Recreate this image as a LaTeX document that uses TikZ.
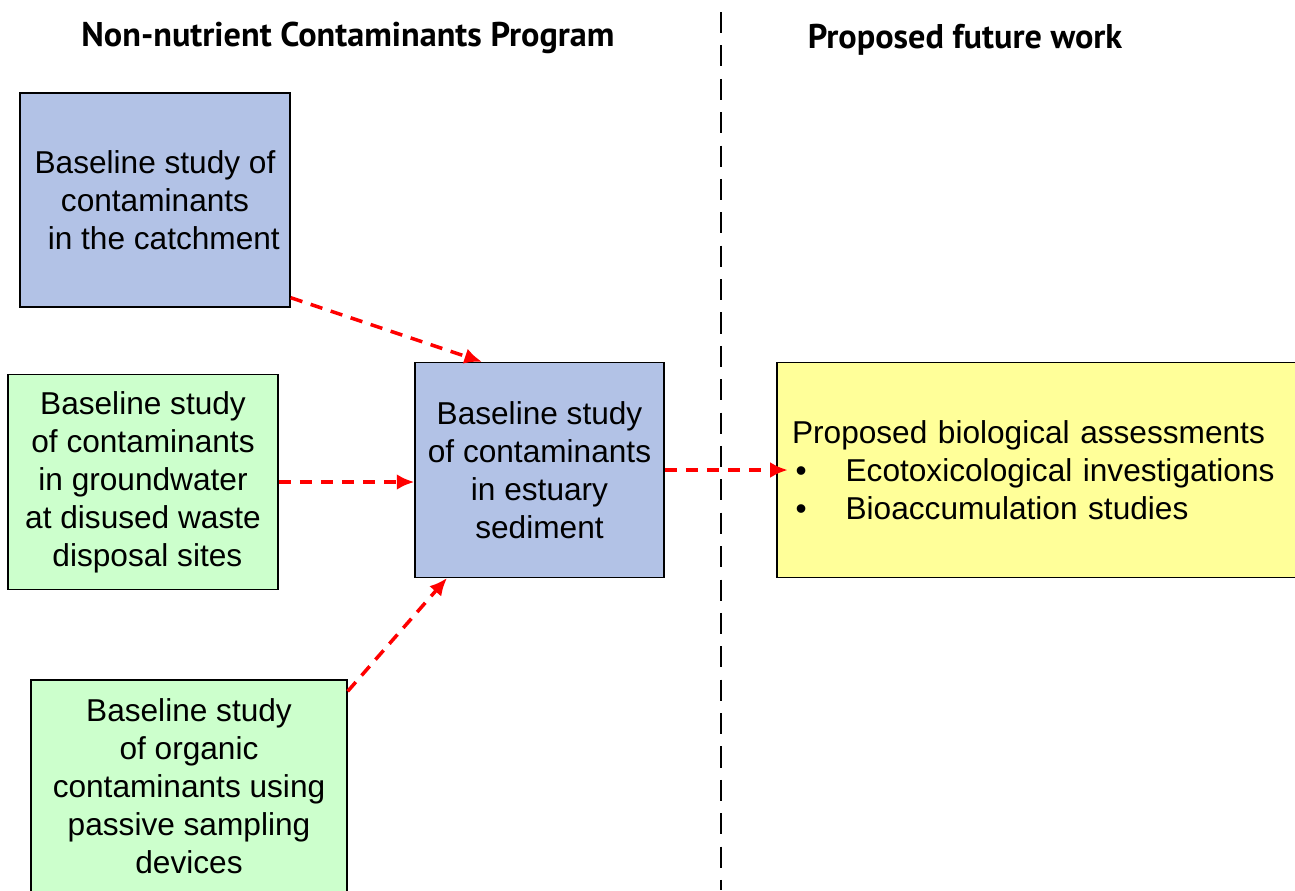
\documentclass[tikz,border=0pt]{standalone}
\usepackage{fontspec}
\setmainfont{Liberation Sans}
\newfontfamily\headfont{PT Sans}
\usetikzlibrary{arrows.meta}
\definecolor{studyblue}{RGB}{178,194,230}
\definecolor{studygreen}{RGB}{204,255,204}
\definecolor{futureyellow}{RGB}{255,255,153}
\newcommand{\bulletitem}[1]{\makebox[30.5pt][l]{\hspace{2pt}\textbullet}#1}
\begin{document}
\begin{tikzpicture}[x=0.02cm,y=-0.02cm,
    box/.style={draw=black,line width=0.8pt,align=center,inner sep=2pt,
      font=\fontsize{18}{21.6}\selectfont},
    bluebox/.style={box,fill=studyblue},
    greenbox/.style={box,fill=studygreen},
    yellowbox/.style={box,fill=futureyellow,align=left,inner xsep=0.3cm},
    heading/.style={font=\headfont\bfseries\fontsize{19.5}{22}\selectfont},
    flow/.style={draw=red,line width=2pt,dash pattern=on 7pt off 5pt,
      -{Latex[length=10pt,width=9pt]}}]
      \useasboundingbox (0,0) rectangle (1295,890);
      % titles
      \node[heading] (prog) at (348,38) {Non-nutrient Contaminants Program};
      \node[heading] (future) at (965,40) {Proposed future work};
      % divider
      \coordinate (divtop) at (721,12);
      \coordinate (divbot) at (721,890);
      \draw[line width=1.3pt,dash pattern=on 12pt off 7pt] (divtop) -- (divbot);
      % study boxes
      \node[bluebox,minimum width=5.4cm,minimum height=4.28cm] (catch) at (155,200)
        {Baseline study of\\contaminants\\\ \ in the catchment};
      \node[greenbox,minimum width=5.4cm,minimum height=4.3cm] (ground) at (143,482)
        {Baseline study\\of contaminants\\in groundwater\\at disused waste\\\ disposal sites};
      \node[greenbox,minimum width=6.32cm,minimum height=4.24cm] (organic) at (189,786)
        {Baseline study\\of organic\\contaminants using\\passive sampling\\devices};
      \node[bluebox,minimum width=4.98cm,minimum height=4.3cm] (estuary) at (539.5,470)
        {Baseline study\\of contaminants\\in estuary\\sediment};
      \node[yellowbox,minimum width=10.4cm,minimum height=4.3cm,text width=9.8cm] (bio) at (1037,470)
        {Proposed biological assessments\\
         \bulletitem{Ecotoxicological investigations}\\
         \bulletitem{Bioaccumulation studies}};
      % links
      \draw[flow] (catch.south east) ++(0,-10) coordinate (c1) (c1) -- (estuary.north west -| 482,0);
      \draw[flow] (ground.east) -- (ground.east -| estuary.west);
      \draw[flow] (organic.north east) ++(0,12) coordinate (o1) (o1) -- (447,578);
      \draw[flow,shorten >=-6.5pt] (estuary) -- (bio);
\end{tikzpicture}
\end{document}
